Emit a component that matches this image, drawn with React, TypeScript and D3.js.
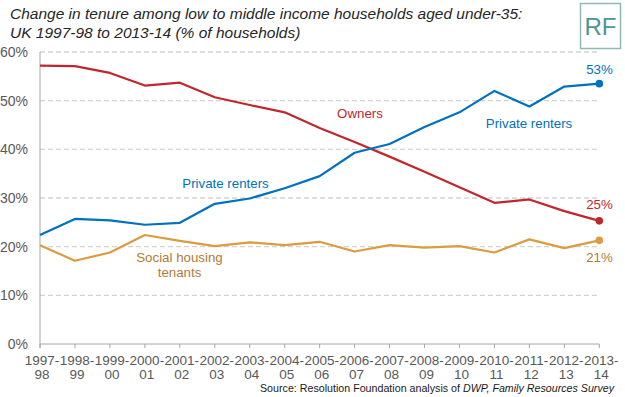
import React, { useEffect, useRef } from "react";
import * as d3 from "d3";

const years = [
  "1997-98", "1998-99", "1999-00", "2000-01", "2001-02", "2002-03", "2003-04", "2004-05", "2005-06",
  "2006-07", "2007-08", "2008-09", "2009-10", "2010-11", "2011-12", "2012-13", "2013-14",
];
const owners = [57.2, 57.1, 55.7, 53.1, 53.7, 50.7, 49.1, 47.6, 44.4, 41.5, 38.5, 35.4, 32.2, 29.0, 29.7, 27.3, 25.3];
const privateRenters = [22.4, 25.7, 25.4, 24.5, 24.9, 28.8, 29.9, 32.0, 34.5, 39.3, 41.1, 44.6, 47.6, 52.0, 48.8, 52.9, 53.5];
const socialTenants = [20.3, 17.1, 18.8, 22.4, 21.2, 20.1, 20.9, 20.3, 21.0, 19.0, 20.3, 19.8, 20.1, 18.8, 21.5, 19.7, 21.3];
const yTicks = [0, 10, 20, 30, 40, 50, 60];

const RED = "#c0272d";
const BLUE = "#0070c0";
const GOLD = "#dc9b3f";
const GOLD_TEXT = "#b07c35";
const FONT = "'Liberation Sans', Arial, sans-serif";

const TenureChart = () => {
  const ref = useRef<SVGSVGElement>(null);

  useEffect(() => {
    const width = 625;
    const height = 397;

    const svg = d3.select(ref.current)
      .attr("width", width)
      .attr("height", height)
      .style("font-family", FONT);

    svg.selectAll("*").remove();

    const x = d3.scalePoint<string>()
      .domain(years)
      .range([40, 599.3]);

    const y = d3.scaleLinear()
      .domain([0, 60])
      .range([344, 52]);

    // title
    const title = svg.append("text")
      .attr("font-style", "italic")
      .attr("font-size", 15.5)
      .attr("fill", "#262626");
    title.append("tspan").attr("x", 10).attr("y", 19)
      .text("Change in tenure among low to middle income households aged under-35:");
    title.append("tspan").attr("x", 10).attr("y", 38)
      .text("UK 1997-98 to 2013-14 (% of households)");

    // gridlines
    svg.append("g")
      .selectAll("line")
      .data(yTicks.filter(d => d > 0))
      .enter()
      .append("line")
      .attr("x1", 40)
      .attr("x2", 599.3)
      .attr("y1", d => y(d))
      .attr("y2", d => y(d))
      .attr("stroke", "#d3d3d3")
      .attr("stroke-width", 1.3)
      .attr("stroke-dasharray", "5,3");

    // RF logo box
    svg.append("rect")
      .attr("x", 574).attr("y", 2).attr("width", 50).attr("height", 48)
      .attr("fill", "#fff");
    svg.append("rect")
      .attr("x", 580.5).attr("y", 3.5).attr("width", 40).attr("height", 45)
      .attr("fill", "#fff")
      .attr("stroke", "#8fb8b6")
      .attr("stroke-width", 1.5);
    svg.append("text")
      .attr("x", 600.5).attr("y", 35)
      .attr("text-anchor", "middle")
      .attr("font-size", 24)
      .attr("fill", "#4d9592")
      .text("RF");

    // axes
    svg.append("line")
      .attr("x1", 40).attr("x2", 40)
      .attr("y1", y(60)).attr("y2", 348)
      .attr("stroke", "#a6a6a6");
    svg.append("line")
      .attr("x1", 40).attr("x2", 599.3)
      .attr("y1", y(0)).attr("y2", y(0))
      .attr("stroke", "#a6a6a6");

    svg.append("g")
      .selectAll("line")
      .data(years)
      .enter()
      .append("line")
      .attr("x1", d => x(d)!)
      .attr("x2", d => x(d)!)
      .attr("y1", y(0))
      .attr("y2", 348)
      .attr("stroke", "#a6a6a6");

    svg.append("g")
      .selectAll("text")
      .data(yTicks)
      .enter()
      .append("text")
      .attr("x", 28)
      .attr("y", d => y(d))
      .attr("dy", "0.35em")
      .attr("text-anchor", "end")
      .attr("font-size", 14)
      .attr("fill", "#595959")
      .text(d => d + "%");

    const xl = svg.append("g")
      .selectAll("text")
      .data(years)
      .enter()
      .append("text")
      .attr("text-anchor", "middle")
      .attr("font-size", 13.5)
      .attr("fill", "#595959");
    xl.append("tspan")
      .attr("x", d => x(d)! + 2)
      .attr("y", 365)
      .text(d => d.split("-")[0] + "-");
    xl.append("tspan")
      .attr("x", d => x(d)! + 2)
      .attr("y", 379)
      .text(d => d.split("-")[1]);

    // source
    const src = svg.append("text")
      .attr("x", 614)
      .attr("y", 392)
      .attr("text-anchor", "end")
      .attr("font-size", 11.5)
      .attr("fill", "#1a1a1a")
      .attr("textLength", 354)
      .attr("lengthAdjust", "spacingAndGlyphs");
    src.append("tspan").text("Source: Resolution Foundation analysis of ");
    src.append("tspan").attr("font-style", "italic").text("DWP, Family Resources Survey");

    // lines
    const series = [
      { values: owners, color: RED },
      { values: privateRenters, color: BLUE },
      { values: socialTenants, color: GOLD },
    ];

    const line = d3.line<number>()
      .x((_, i) => x(years[i])!)
      .y(d => y(d));

    series.forEach(s => {
      svg.append("path")
        .datum(s.values)
        .attr("d", line)
        .attr("fill", "none")
        .attr("stroke", s.color)
        .attr("stroke-width", 2.2)
        .attr("stroke-linejoin", "round");

      const last = years.length - 1;
      svg.append("circle")
        .attr("cx", x(years[last])!)
        .attr("cy", y(s.values[last]))
        .attr("r", 3.8)
        .attr("fill", s.color);
    });

    // series labels
    const labels = [
      { text: ["Owners"], x: 360, y: 118, color: RED },
      { text: ["Private renters"], x: 529, y: 128, color: BLUE },
      { text: ["Private renters"], x: 225.5, y: 188, color: BLUE },
      { text: ["Social housing", "tenants"], x: 179.5, y: 262, color: GOLD_TEXT },
      { text: ["53%"], x: 599.5, y: 74, color: BLUE },
      { text: ["25%"], x: 599.5, y: 209, color: RED },
      { text: ["21%"], x: 599.5, y: 262, color: GOLD_TEXT },
    ];

    labels.forEach(l => {
      const t = svg.append("text")
        .attr("text-anchor", "middle")
        .attr("font-size", 13.3)
        .attr("fill", l.color);
      l.text.forEach((s, i) => {
        t.append("tspan").attr("x", l.x).attr("y", l.y + i * 15).text(s);
      });
    });
  }, []);

  return <svg ref={ref} style={{ position: "absolute", left: 0, top: 0 }}></svg>;
};

export default function App() {
  return <TenureChart />;
}
